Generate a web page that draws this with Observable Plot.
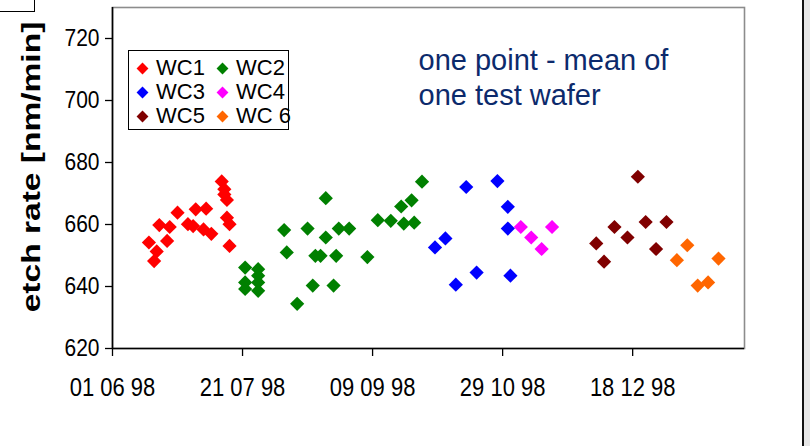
<!DOCTYPE html>
<html>
<head>
<meta charset="utf-8">
<script src="https://cdn.jsdelivr.net/npm/d3@7"></script>
<script src="https://cdn.jsdelivr.net/npm/@observablehq/plot@0.6"></script>
<style>
  html, body { margin: 0; padding: 0; background: #fff; }
  #wrap { position: relative; width: 810px; height: 446px; overflow: hidden;
          font-family: "Liberation Sans", Arial, sans-serif; }
  #chart svg { display: block; }
  #corner { position: absolute; left: 0; top: 0; width: 34px; height: 11px;
            border-right: 1.5px solid #000; border-bottom: 1.5px solid #000; }
  #edge { position: absolute; left: 802px; top: 0; width: 2px; height: 446px; background: #111; }
  #edgefill { position: absolute; left: 804px; top: 0; width: 6px; height: 446px; background: #e6e6e6; }
  #legend { position: absolute; left: 128px; top: 50px; width: 159px; height: 78px;
            border: 1px solid #000; background: #fff; }
  .item { position: absolute; height: 22px; display: flex; align-items: center;
          font-size: 22px; line-height: 22px; color: #000; white-space: nowrap; }
  .item svg { margin-right: 4px; }
</style>
</head>
<body>
<div id="wrap">
  <div id="chart"></div>
  <div id="legend"></div>
  <div id="corner"></div>
  <div id="edge"></div>
  <div id="edgefill"></div>
</div>
<script>
// Wafer chambers and their marker colours
const series = ["WC1", "WC2", "WC3", "WC4", "WC5", "WC 6"];
const colors = ["#ff0000", "#008000", "#0000ff", "#ff00ff", "#800000", "#ff6600"];

// Test-wafer dates (one mean per wafer) and etch rates in nm/min
const wc1Dates = ["1998-06-15", "1998-06-17", "1998-06-18", "1998-06-19", "1998-06-22", "1998-06-23",
                  "1998-06-26", "1998-06-30", "1998-07-02", "1998-07-03", "1998-07-06", "1998-07-07",
                  "1998-07-09", "1998-07-13", "1998-07-14", "1998-07-14", "1998-07-15", "1998-07-15",
                  "1998-07-16", "1998-07-16"];
const wc1Rates = [654.2, 648.2, 651.3, 659.8, 654.7, 659.2,
                  663.8, 660.1, 659.5, 664.9, 658.4, 665.1,
                  657.0, 673.9, 671.4, 669.7, 667.9, 662.2,
                  660.1, 653.1];

const wc2Dates = ["1998-07-22", "1998-07-22", "1998-07-22", "1998-07-27", "1998-07-27", "1998-07-27",
                  "1998-07-27", "1998-08-06", "1998-08-07", "1998-08-11", "1998-08-15", "1998-08-17",
                  "1998-08-18", "1998-08-20", "1998-08-22", "1998-08-22", "1998-08-25", "1998-08-26",
                  "1998-08-27", "1998-08-31", "1998-09-07", "1998-09-11", "1998-09-16", "1998-09-20",
                  "1998-09-21", "1998-09-24", "1998-09-25", "1998-09-28"];
const wc2Rates = [646.1, 641.3, 639.2, 645.6, 643.5, 641.3,
                  638.6, 658.2, 651.0, 634.4, 658.7, 640.3,
                  649.9, 649.9, 655.8, 668.5, 640.3, 649.9,
                  658.7, 658.7, 649.5, 661.4, 661.2, 665.8,
                  660.3, 667.8, 660.6, 673.8];

const wc3Dates = ["1998-10-03", "1998-10-07", "1998-10-11", "1998-10-15", "1998-10-19",
                  "1998-10-27", "1998-10-31", "1998-10-31", "1998-11-01"];
const wc3Rates = [652.6, 655.5, 640.6, 672.1, 644.5, 674.0, 665.7, 658.7, 643.5];

const wc4Dates = ["1998-11-05", "1998-11-09", "1998-11-13", "1998-11-17"];
const wc4Rates = [659.2, 655.8, 652.1, 659.2];

const wc5Dates = ["1998-12-04", "1998-12-07", "1998-12-11", "1998-12-16",
                  "1998-12-20", "1998-12-23", "1998-12-27", "1998-12-31"];
const wc5Rates = [653.9, 648.0, 659.2, 655.8, 675.4, 660.8, 652.1, 660.8];

const wc6Dates = ["1999-01-04", "1999-01-08", "1999-01-12", "1999-01-16", "1999-01-20"];
const wc6Rates = [648.5, 653.3, 640.3, 641.3, 649.0];

// Axes
const xTickLabels = ["01 06 98", "21 07 98", "09 09 98", "29 10 98", "18 12 98"];
const xDomainLabels = ["01 06 98", "30 01 99"];
const yTicks = [620, 640, 660, 680, 700, 720];
const yDomain = [620, 730];
const yLabel = "etch rate [nm/min]";
const note = "one point - mean of\none test wafer";

const parseDay = d3.utcParse("%Y-%m-%d");
const parseTick = d3.utcParse("%d %m %y");
const fmtTick = d3.utcFormat("%d %m %y");

const allDates = [wc1Dates, wc2Dates, wc3Dates, wc4Dates, wc5Dates, wc6Dates];
const allRates = [wc1Rates, wc2Rates, wc3Rates, wc4Rates, wc5Rates, wc6Rates];
const rows = [];
allDates.forEach((dates, i) => dates.forEach((d, j) =>
  rows.push({series: series[i], date: parseDay(d), rate: allRates[i][j]})));

const chart = Plot.plot({
  width: 810,
  height: 446,
  marginLeft: 112,
  marginRight: 66,
  marginTop: 7,
  marginBottom: 98,
  style: {fontFamily: "'Liberation Sans', Arial, sans-serif", color: "#000", background: "transparent"},
  x: {type: "utc", domain: xDomainLabels.map(parseTick)},
  y: {domain: yDomain},
  color: {domain: series, range: colors},
  marks: [
    Plot.frame({stroke: "#8c8c8c", strokeWidth: 1.6}),
    Plot.ruleY([yDomain[0]], {stroke: "#000", strokeWidth: 1.6}),
    Plot.ruleX([parseTick(xDomainLabels[0])], {stroke: "#000", strokeWidth: 1.6}),
    Plot.axisY(yTicks, {tickSize: 7, tickPadding: 6, fontSize: 21, label: null, strokeWidth: 1.3}),
    Plot.axisX(xTickLabels.map(parseTick), {tickSize: 8, tickPadding: 21, fontSize: 22,
      tickFormat: fmtTick, label: null, strokeWidth: 1.3}),
    Plot.dot(rows, {x: "date", y: "rate", fill: "series", symbol: "diamond2", r: 6.4}),
    Plot.text([note], {frameAnchor: "top-left", textAnchor: "start", lineAnchor: "top",
      dx: 306, dy: 38, fontSize: 29, lineHeight: 1.2, fill: "#0c2a6c"}),
    Plot.text([yLabel], {frameAnchor: "left", textAnchor: "middle", lineAnchor: "middle",
      rotate: -90, dx: -81, dy: -11, fontSize: 26, fontWeight: "bold", fill: "#000"})
  ]
});
document.getElementById("chart").appendChild(chart);

// Scale a text about its own anchor point
function stretch(el, sx, sy) {
  const t = el.getAttribute("transform");
  if (t) {
    el.setAttribute("transform", `${t} scale(${sx},${sy})`);
  } else {
    el.style.transformBox = "fill-box";
    el.style.transformOrigin = "center";
    el.style.transform = `scale(${sx},${sy})`;
  }
}

const svg = d3.select(chart);
// Lengthen the rotated axis title
svg.selectAll("text").each(function () {
  if (this.textContent === yLabel) stretch(this, 1.29, 1);
});
// Taller tick labels
svg.selectAll('g[aria-label="x-axis tick label"] text').each(function () { stretch(this, 1, 1.18); });
svg.selectAll('g[aria-label="y-axis tick label"] text').each(function () { stretch(this, 1, 1.15); });

// Two-column legend
const legend = document.getElementById("legend");
const sym = d3.symbol(d3.symbolDiamond2, 90);
series.forEach((name, i) => {
  const item = document.createElement("div");
  item.className = "item";
  item.style.left = (4 + (i % 2) * 80) + "px";
  item.style.top = (6 + Math.floor(i / 2) * 24) + "px";
  item.innerHTML = `<svg width="19" height="19" viewBox="-9.5 -9.5 19 19"><path d="${sym()}" fill="${colors[i]}"/></svg><span>${name}</span>`;
  legend.appendChild(item);
});
</script>
</body>
</html>
